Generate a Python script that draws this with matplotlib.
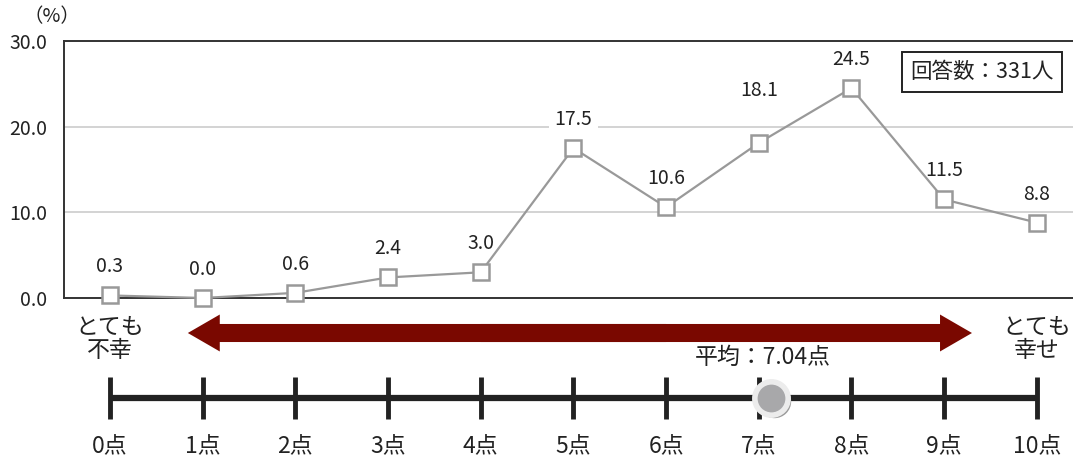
import matplotlib
matplotlib.use('Agg')
import matplotlib.pyplot as plt
from matplotlib.transforms import offset_copy

plt.rcParams['font.family'] = ['Noto Sans CJK JP', 'DejaVu Sans']

# ---------- データ ----------
scores = [0, 1, 2, 3, 4, 5, 6, 7, 8, 9, 10]
pct = [0.3, 0.0, 0.6, 2.4, 3.0, 17.5, 10.6, 18.1, 24.5, 11.5, 8.8]
score_labels = [f'{s}点' for s in scores]
yticks = [0, 10, 20, 30]
mean_score = 7.04
n_resp = 331

LINE = '#999999'
DARK = '#222222'
ARROW = '#7a0800'

fig = plt.figure(figsize=(10.73, 4.61), dpi=100)
W, H = 1073, 461
xlim = (-0.496, 10.39)

# ---------- 上段：折れ線 ----------
ax = fig.add_axes([64 / W, 1 - 298 / H, 1 - 64 / W, (298 - 41) / H])
ax.plot(scores, pct, color=LINE, lw=1.6, marker='s', ms=11,
        mfc='white', mec=LINE, mew=1.8, zorder=3, clip_on=False)
# ラベル背景は目盛線だけを隠す（折れ線より下）
for x, y in zip(scores, pct):
    dy = 30 if x == 7 else 13  # 7点のラベルは目盛線の上へ逃がす
    ax.annotate(f'{y:.1f}', (x, y), xytext=(0, dy), textcoords='offset points',
                ha='center', va='bottom', fontsize=14, color=DARK, zorder=2,
                bbox=dict(boxstyle='square,pad=0.3', fc='white', ec='none'))
ax.set_xlim(*xlim)
ax.set_ylim(0, 30)
ax.set_yticks(yticks)
ax.set_yticklabels([f'{v:.1f}' for v in yticks], fontsize=14, color=DARK)
ax.tick_params(axis='y', length=0, pad=12)
ax.set_xticks([])
ax.grid(axis='y', color='#cccccc', lw=1.2)
ax.set_axisbelow(True)
for side in ['left', 'top', 'bottom']:
    ax.spines[side].set_color('#333333')
    ax.spines[side].set_linewidth(1.4)
ax.spines['right'].set_visible(False)
ax.text(-0.012, 1.093, '（%）', transform=ax.transAxes, ha='center', va='center',
        fontsize=14, color=DARK)
ax.text(0.91, 0.879, f'回答数：{n_resp}人', transform=ax.transAxes,
        ha='center', va='center', fontsize=15.5, color=DARK, zorder=5,
        bbox=dict(boxstyle='square,pad=0.4', fc='white', ec=DARK, lw=1.4))

# ---------- 下段：矢印と目盛 ----------
ax2 = fig.add_axes([64 / W, 0, 1 - 64 / W, (461 - 300) / H])
ax2.set_xlim(*xlim)
ax2.set_ylim(0, 161)
ax2.axis('off')

style = 'simple,head_length=1.15,head_width=1.33,tail_width=0.65'
ax2.annotate('', xy=(0.84, 128), xytext=(6.0, 128),
             arrowprops=dict(arrowstyle=style, fc=ARROW, ec='none',
                             mutation_scale=20, shrinkA=0, shrinkB=0))
ax2.annotate('', xy=(9.3, 128), xytext=(4.0, 128),
             arrowprops=dict(arrowstyle=style, fc=ARROW, ec='none',
                             mutation_scale=20, shrinkA=0, shrinkB=0))

ax2.text(scores[0], 122, 'とても\n不幸', ha='center', va='center', fontsize=16.5,
         color=DARK, linespacing=1.05)
ax2.text(scores[-1], 122, 'とても\n幸せ', ha='center', va='center', fontsize=16.5,
         color=DARK, linespacing=1.05)

ax2.plot([scores[0], scores[-1]], [63, 63], color=DARK, lw=4.5, solid_capstyle='butt')
ax2.vlines(scores, 42, 84, color=DARK, lw=3.5)
for x, lab in zip(scores, score_labels):
    ax2.text(x, 14, lab, ha='center', va='center', fontsize=16.5, color=DARK)

# 平均マーカー（影付き）
shadow = offset_copy(ax2.transData, fig=fig, x=12, y=-3, units='dots')
mark = offset_copy(ax2.transData, fig=fig, x=9, y=0, units='dots')
ax2.plot([mean_score], [63], 'o', ms=24, color='#9a9a9a', mec='none',
         transform=shadow, zorder=4)
ax2.plot([mean_score], [63], 'o', ms=24, color='#a8a8aa', mec='#ececec', mew=4,
         transform=mark, zorder=5)
ax2.text(mean_score, 104, f'平均：{mean_score:.2f}点', ha='center', va='center',
         fontsize=16.5, color=DARK)

fig.savefig('out.png', dpi=100)
